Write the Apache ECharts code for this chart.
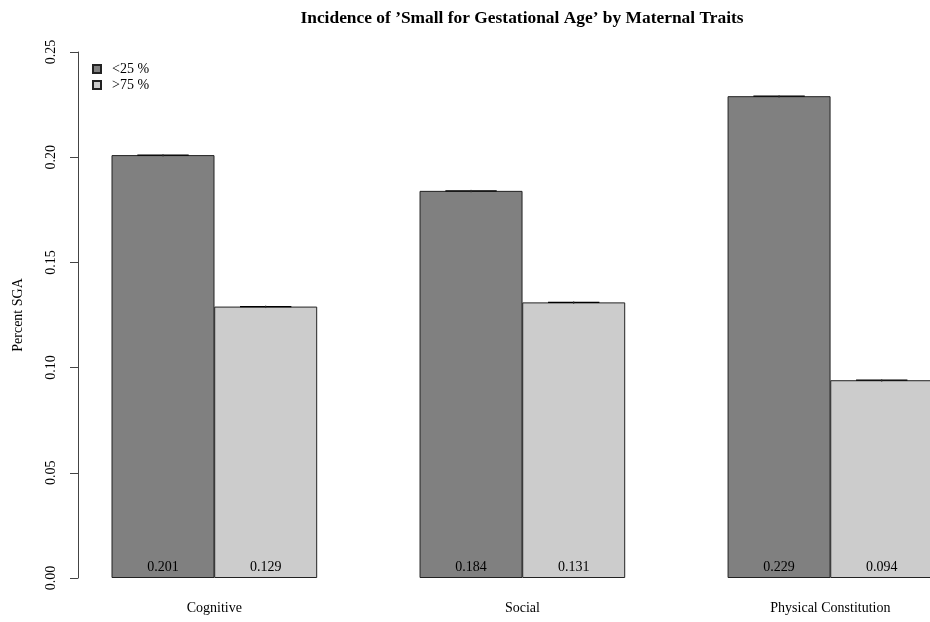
<!DOCTYPE html>
<html>
<head>
<meta charset="utf-8">
<script src="https://cdn.jsdelivr.net/npm/echarts@6/dist/echarts.min.js"></script>
<style>html,body{margin:0;padding:0;background:#fff}#c{width:930px;height:622px}</style>
</head>
<body>
<div id="c"></div>
<script>
var categories = ['Cognitive', 'Social', 'Physical Constitution'];
var seriesNames = ['<25 %', '>75 %'];
var lowValues = [0.201, 0.184, 0.229];
var highValues = [0.129, 0.131, 0.094];
var yTicks = [0, 0.05, 0.10, 0.15, 0.20, 0.25];

var SERIF = '"Liberation Serif", "DejaVu Serif", serif';
// group layout in bar units: each group = 1 space + 2 bars
function centerOf(i, j) { return 1.5 + 3 * i + j; }
var lowData = lowValues.map(function (v, i) { return [centerOf(i, 0), v]; });
var highData = highValues.map(function (v, i) { return [centerOf(i, 1), v]; });
var errData = lowData.concat(highData);
var catCenters = categories.map(function (c, i) { return 2 + 3 * i; });

var chart = echarts.init(document.getElementById('c'));
chart.setOption({
  animation: false,
  backgroundColor: '#ffffff',
  title: {
    text: "Incidence of \u2019Small for Gestational Age\u2019 by Maternal Traits",
    left: 517, top: 5, textAlign: 'center',
    textStyle: { fontFamily: SERIF, fontWeight: 'bold', fontSize: 17.4, color: '#000' }
  },
  legend: {
    orient: 'vertical', left: 87, top: 57,
    itemWidth: 8, itemHeight: 8, itemGap: 2,
    icon: 'rect',
    textStyle: { fontFamily: SERIF, fontSize: 14, color: '#000', padding: [0, 0, 0, 6] },
    data: seriesNames
  },
  grid: { left: 78, right: 0, top: 52, bottom: 44 },
  xAxis: {
    type: 'value', min: 0.672, max: 8.97,
    splitLine: { show: false },
    axisLine: { show: false }, axisTick: { show: false },
    axisLabel: {
      customValues: catCenters,
      margin: 23,
      fontFamily: SERIF, fontSize: 14, color: '#000',
      formatter: function (v) { var i = catCenters.indexOf(v); return i >= 0 ? categories[i] : ''; }
    }
  },
  yAxis: {
    type: 'value', min: 0, max: 0.25, interval: 0.05,
    name: 'Percent SGA', nameLocation: 'middle', nameGap: 53, nameRotate: 90,
    nameTextStyle: { fontFamily: SERIF, fontSize: 14, color: '#000' },
    splitLine: { show: false },
    axisLine: { show: true, lineStyle: { color: '#444', width: 1 } },
    axisTick: { show: true, length: 8, lineStyle: { color: '#444' } },
    axisLabel: {
      rotate: 90, margin: 20, fontFamily: SERIF, fontSize: 14, color: '#000',
      formatter: function (v) { return v.toFixed(2); }
    }
  },
  series: [
    {
      name: seriesNames[0], type: 'bar', data: lowData, barWidth: 103, barGap: '-100%',
      itemStyle: { color: '#808080', borderColor: '#222', borderWidth: 1 },
      label: { show: true, position: 'insideBottom', distance: 4, fontFamily: SERIF, fontSize: 14, color: '#000',
        formatter: function (p) { return p.value[1].toFixed(3); } }
    },
    {
      name: seriesNames[1], type: 'bar', data: highData, barWidth: 103, barGap: '-100%',
      itemStyle: { color: '#cccccc', borderColor: '#222', borderWidth: 1 },
      label: { show: true, position: 'insideBottom', distance: 4, fontFamily: SERIF, fontSize: 14, color: '#000',
        formatter: function (p) { return p.value[1].toFixed(3); } }
    },
    {
      type: 'custom', data: errData, z: 5, silent: true,
      renderItem: function (params, api) {
        var p = api.coord([api.value(0), api.value(1)]);
        var half = api.size([0.25, 0])[0];
        return {
          type: 'group',
          children: [
            { type: 'line', shape: { x1: p[0] - half, y1: p[1], x2: p[0] + half, y2: p[1] }, style: { stroke: '#000', lineWidth: 1.3 } },
            { type: 'line', shape: { x1: p[0], y1: p[1] - 1, x2: p[0], y2: p[1] + 1.5 }, style: { stroke: '#333', lineWidth: 1 } }
          ]
        };
      }
    }
  ]
});
</script>
</body>
</html>
